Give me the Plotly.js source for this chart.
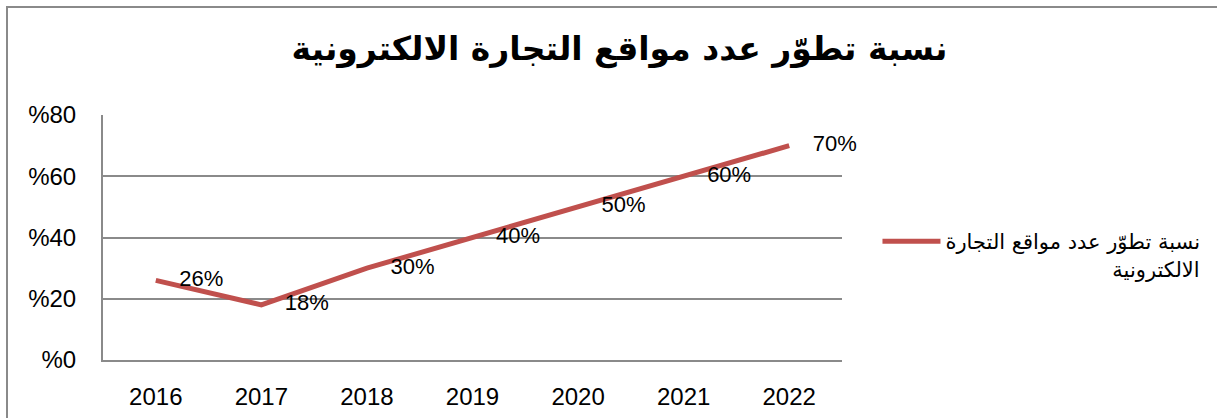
<!DOCTYPE html>
<html>
<head>
<meta charset="utf-8">
<script src="https://cdn.plot.ly/plotly-3.0.1.min.js"></script>
<style>
  body { margin: 0; overflow: hidden; background: #fff; }
  #plot { width: 1217px; height: 418px; }
  #frame {
    position: absolute; left: 6px; top: 6px; width: 1400px; height: 600px;
    border-left: 2px solid #8a8a8a; border-top: 2px solid #8a8a8a;
    pointer-events: none;
  }
</style>
</head>
<body>
<div id="plot"></div>
<div id="frame"></div>
<script>
// chart data
let years = ['2016', '2017', '2018', '2019', '2020', '2021', '2022'];
let share = [0.26, 0.18, 0.30, 0.40, 0.50, 0.60, 0.70];
let shareLabels = ['26%', '18%', '30%', '40%', '50%', '60%', '70%'];
let yTicks = [0, 0.2, 0.4, 0.6, 0.8];
let yTickText = ['%0', '%20', '%40', '%60', '%80'];

let chartTitle = 'نسبة تطوّر عدد مواقع التجارة الالكترونية';
// second line padded so it sits right-aligned under the first one
let seriesName = 'نسبة تطوّر عدد مواقع التجارة<br>' + '\u00a0'.repeat(25) + 'الالكترونية';

let trace1 = {
    x: years,
    y: share,
    text: shareLabels,
    name: seriesName,
    type: 'scatter',
    mode: 'lines+markers+text',
    textposition: 'middle right',
    textfont: { family: 'Liberation Sans, Arial, sans-serif', size: 22, color: '#000' },
    line: { color: '#C0504D', width: 5 },
    // invisible markers, only used to push the labels away from the line
    marker: { size: 36, color: 'rgba(0,0,0,0)' },
    cliponaxis: false,
    hoverinfo: 'skip'
};

let layout = {
    width: 1217,
    height: 418,
    paper_bgcolor: '#fff',
    plot_bgcolor: '#fff',
    margin: { l: 103, r: 371, t: 115, b: 58 },
    title: {
        text: chartTitle,
        font: { family: 'DejaVu Sans, sans-serif', size: 33, color: '#000', weight: 'bold' },
        x: 0.509, xanchor: 'center',
        y: 0.885, yanchor: 'middle'
    },
    xaxis: {
        type: 'category',
        range: [-0.5, 6.5],
        showline: true, linecolor: '#8a8a8a', linewidth: 2,
        showgrid: false, ticks: '',
        ticklabelstandoff: 14,
        tickfont: { family: 'Liberation Sans, Arial, sans-serif', size: 24, color: '#000' }
    },
    yaxis: {
        range: [0, 0.8],
        tickvals: yTicks,
        ticktext: yTickText,
        showline: true, linecolor: '#8a8a8a', linewidth: 2,
        showgrid: true, gridcolor: '#8a8a8a', gridwidth: 2,
        zeroline: false, ticks: '',
        ticklabelstandoff: 20,
        tickfont: { family: 'Liberation Sans, Arial, sans-serif', size: 24, color: '#000' }
    },
    showlegend: true,
    legend: {
        x: 1.048, xanchor: 'left',
        y: 0.567, yanchor: 'top',
        valign: 'top',
        itemwidth: 58,
        font: { family: 'DejaVu Sans, sans-serif', size: 21, color: '#000' },
        bgcolor: 'rgba(0,0,0,0)'
    }
};

Plotly.newPlot('plot', [trace1], layout, { displayModeBar: false, staticPlot: true });
</script>
</body>
</html>
